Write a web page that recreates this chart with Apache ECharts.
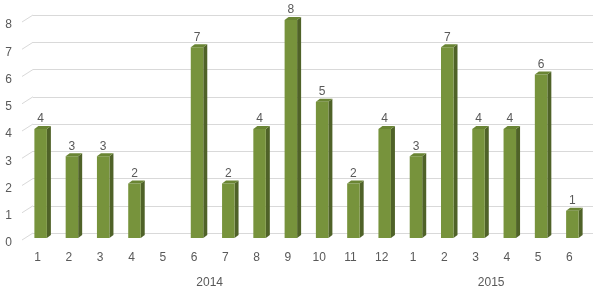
<!DOCTYPE html>
<html>
<head>
<meta charset="utf-8">
<script src="https://cdn.jsdelivr.net/npm/echarts@6/dist/echarts.min.js"></script>
<style>html,body{margin:0;padding:0;background:#fff}#c{width:600px;height:294px}</style>
</head>
<body>
<div id="c"></div>
<script>
const categories = ['1','2','3','4','5','6','7','8','9','10','11','12','1','2','3','4','5','6'];
const values = [4,3,3,2,null,7,2,4,8,5,2,4,3,7,4,4,6,1];
const yTicks = [0,1,2,3,4,5,6,7,8];
const years = ['2014','2015'];
const yearSpans = [[0,11],[12,17]];

const FONT = '"Liberation Sans", Arial, sans-serif';
const TXT = '#595959';
const GRIDC = '#d9d9d9';

const chart = echarts.init(document.getElementById('c'));
chart.setOption({
  animation: false,
  backgroundColor: '#fff',
  grid: [
    {left: 22, right: 15, top: 22, bottom: 54},
    {left: 33, right: 7, top: 15, bottom: 61}
  ],
  xAxis: [
    {type: 'category', gridIndex: 0, data: categories,
     axisLine: {show: false}, axisTick: {show: false},
     axisLabel: {color: TXT, fontSize: 12, fontFamily: FONT, margin: 12, interval: 0}},
    {type: 'category', gridIndex: 1, data: categories, show: false}
  ],
  yAxis: [
    {type: 'value', gridIndex: 0, min: 0, max: 8, interval: 1,
     axisLine: {show: false}, axisTick: {show: false}, splitLine: {show: false},
     axisLabel: {show: false}},
    {type: 'value', gridIndex: 1, min: 0, max: 8, interval: 1,
     axisLine: {show: false}, axisTick: {show: false}, axisLabel: {show: false},
     splitLine: {show: true, lineStyle: {color: GRIDC, width: 1}}}
  ],
  series: [
    {
      type: 'custom', xAxisIndex: 0, yAxisIndex: 0, silent: true,
      data: yTicks.map(v => [0, v]),
      renderItem: function (params, api) {
        const v = api.value(1);
        const p = api.coord([0, v]);
        const half = api.size([1, 0])[0] / 2;
        const x0 = p[0] - half;
        return {type: 'group', children: [
          {type: 'line', shape: {x1: x0, y1: p[1], x2: x0 + 11, y2: p[1] - 7},
           style: {stroke: GRIDC, lineWidth: 1}},
          {type: 'text', x: x0 - 10, y: p[1] + 3,
           style: {text: String(v), fill: TXT, font: '12px ' + FONT, align: 'right', verticalAlign: 'middle'}}
        ]};
      }
    },
    {
      type: 'custom', xAxisIndex: 0, yAxisIndex: 0, silent: true,
      data: values.map((v, i) => [i, v == null ? '-' : v]),
      renderItem: function (params, api) {
        const v = api.value(1);
        if (v == null || isNaN(v)) return null;
        const i = api.value(0);
        const top = api.coord([i, v]);
        const base = api.coord([i, 0]);
        const cx = top[0] + 3;
        const w = 12.5;
        const l = cx - w / 2, r = cx + w / 2;
        const ty = top[1] - 2, by = base[1] - 2;
        const dx = 4, dy = -3;
        return {
          type: 'group',
          children: [
            {type: 'polygon', shape: {points: [[r, ty], [r + dx, ty + dy], [r + dx, by + dy], [r, by]]},
             style: {fill: '#4F6228'}},
            {type: 'rect', shape: {x: l, y: ty, width: w, height: by - ty},
             style: {fill: '#77933C'}},
            {type: 'polygon', shape: {points: [[l, ty], [l + dx, ty + dy], [r + dx, ty + dy], [r, ty]]},
             style: {fill: '#6A8534'}},
            {type: 'text', x: cx, y: ty - 10,
             style: {text: String(v), fill: TXT, font: '12px ' + FONT, align: 'center', verticalAlign: 'middle'}}
          ]
        };
      }
    },
    {
      type: 'custom', xAxisIndex: 0, yAxisIndex: 0, silent: true,
      data: yearSpans.map(s => [s[0], s[1]]),
      renderItem: function (params, api) {
        const a = api.coord([api.value(0), 0]);
        const b = api.coord([api.value(1), 0]);
        return {type: 'text', x: (a[0] + b[0]) / 2, y: a[1] + 43,
                style: {text: years[params.dataIndex], fill: TXT, font: '12px ' + FONT,
                        align: 'center', verticalAlign: 'middle'}};
      }
    }
  ]
});
</script>
</body>
</html>
